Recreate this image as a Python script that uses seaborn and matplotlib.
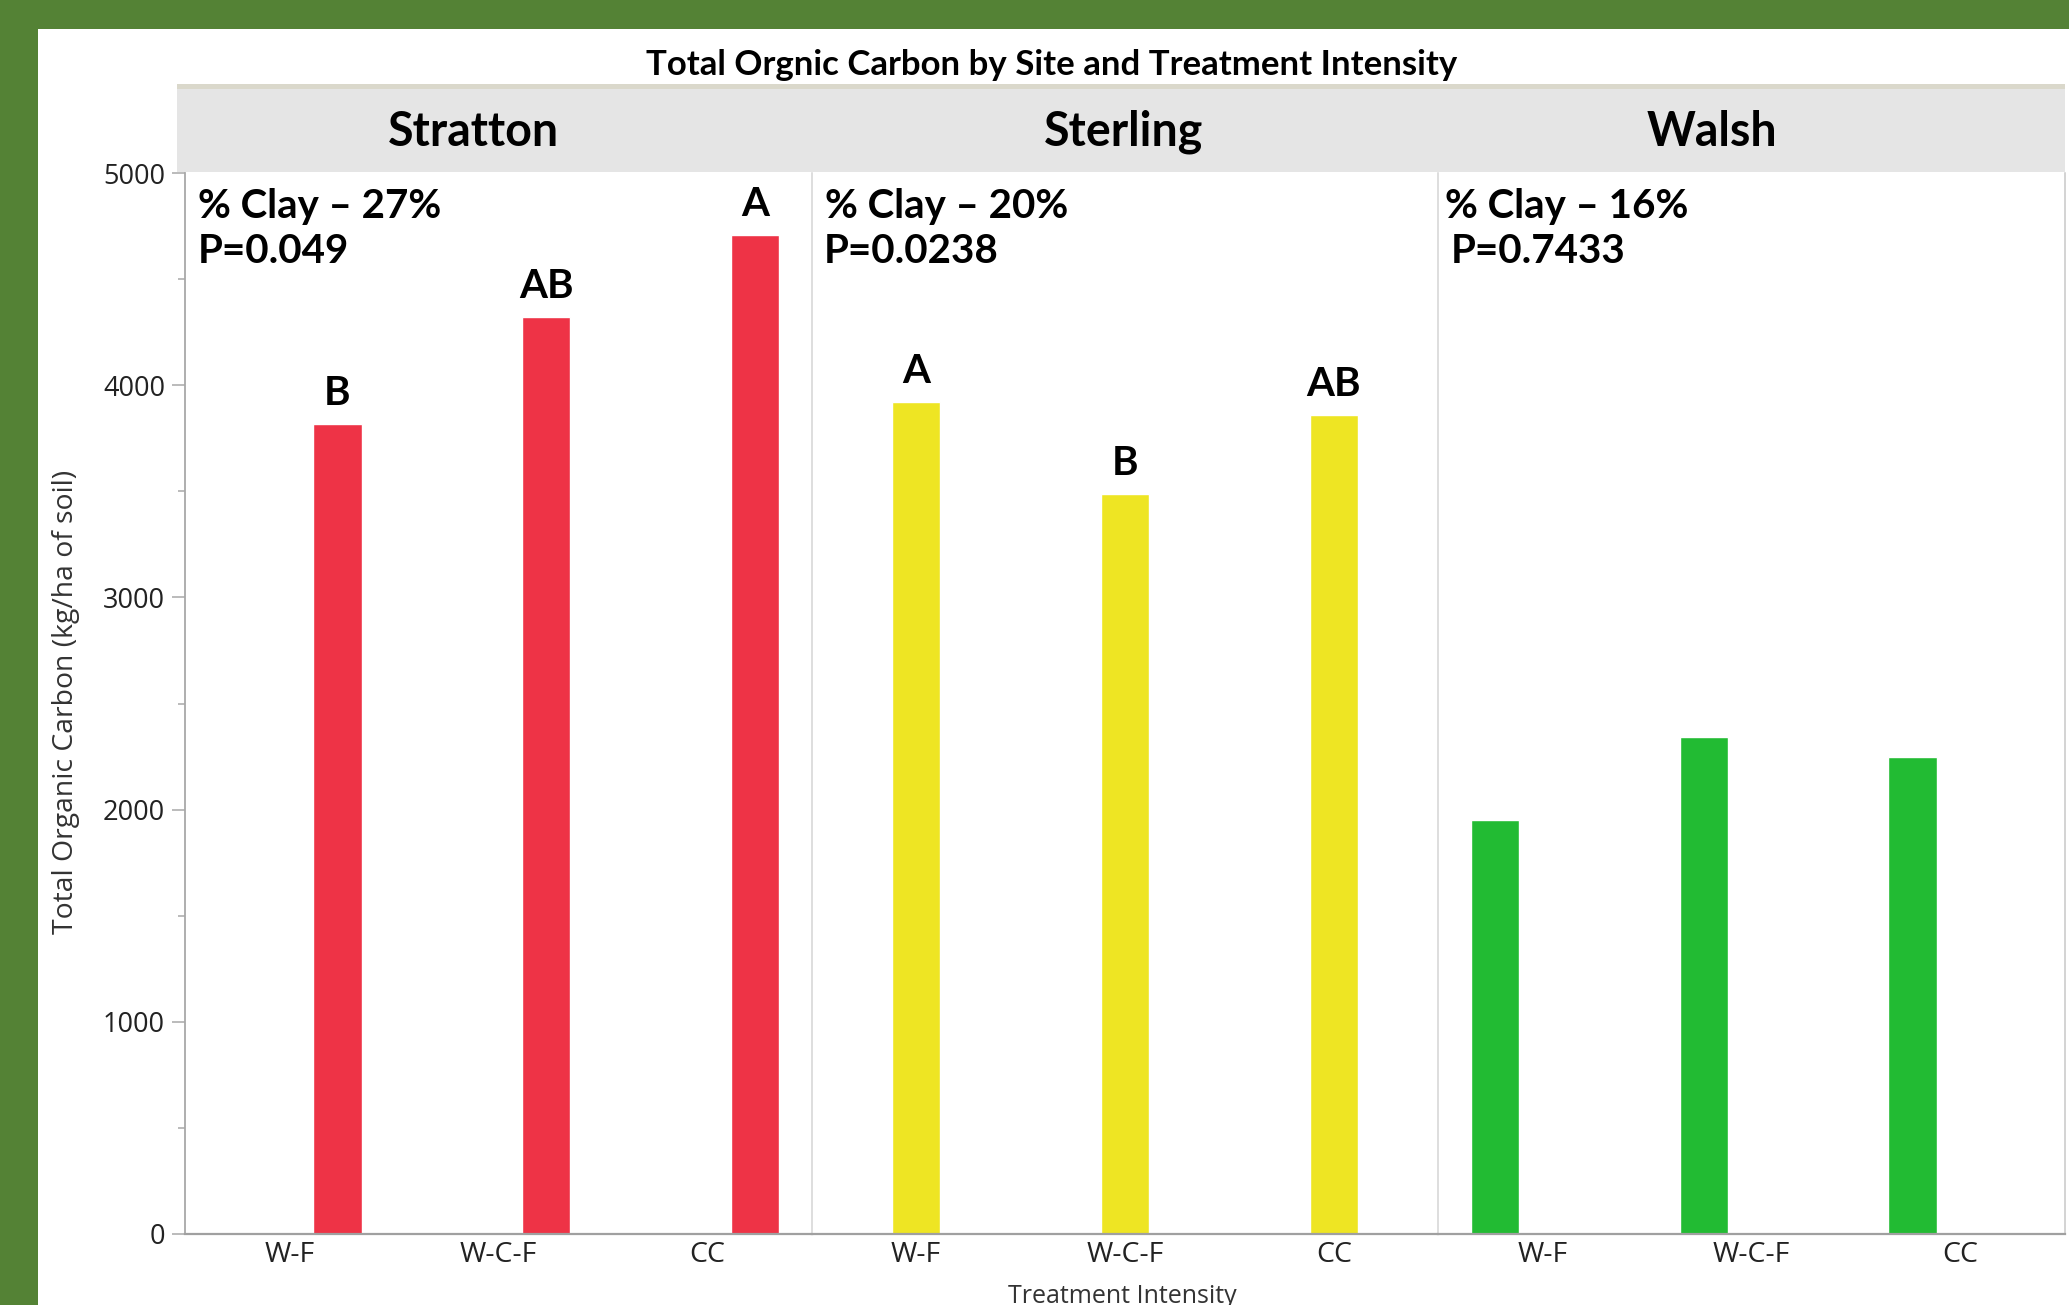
import numpy as np
import pandas as pd
import matplotlib
matplotlib.use("Agg")
import matplotlib.pyplot as plt
from matplotlib.patches import Rectangle
from matplotlib.ticker import MultipleLocator
import seaborn as sns

# ---------------- data ----------------
sites = ["Stratton", "Sterling", "Walsh"]
treatments = ["W-F", "W-C-F", "CC"]
stratton_toc = [3817, 4321, 4707]
sterling_toc = [3923, 3487, 3860]
walsh_toc = [1949, 2341, 2248]
stratton_letters = ["B", "AB", "A"]
sterling_letters = ["A", "B", "AB"]
walsh_letters = ["", "", ""]
clay_labels = ["% Clay \u2013 27%", "% Clay \u2013 20%", "% Clay \u2013 16%"]
p_labels = ["P=0.049", "P=0.0238", "P=0.7433"]
site_colors = ["#EE3346", "#EEE523", "#22BB33"]
title = "Total Orgnic Carbon by Site and Treatment Intensity"
y_label = "Total Organic Carbon (kg/ha of soil)"
x_label = "Treatment Intensity"

df = pd.DataFrame({
    "Site": np.repeat(sites, len(treatments)),
    "Treatment": treatments * len(sites),
    "TOC": stratton_toc + sterling_toc + walsh_toc,
})
letters = {"Stratton": stratton_letters, "Sterling": sterling_letters, "Walsh": walsh_letters}
palette = dict(zip(sites, site_colors))

# ---------------- style ----------------
sns.set_theme(style="white")
plt.rcParams["font.family"] = ["Open Sans", "DejaVu Sans"]
BOLD = ["Lato", "DejaVu Sans"]

W, H = 2069, 1305
g = sns.catplot(
    data=df, x="Treatment", y="TOC", col="Site", col_order=sites,
    hue="Site", hue_order=["Walsh", "Sterling", "Stratton"], palette=palette,
    kind="bar", order=treatments, dodge=True, width=0.69, errorbar=None,
    saturation=1, legend=False, sharey=True, height=5, aspect=1,
)
fig = g.figure
fig.set_size_inches(W / 100, H / 100)
fig.set_dpi(100)
fig.set_facecolor("#548235")
fig.subplots_adjust(left=185 / W, right=2065 / W, top=1 - 173 / H,
                    bottom=1 - 1234 / H, wspace=0)

# white card over green background
fig.add_artist(Rectangle((38 / W, 0), 1, 1 - 29 / H, transform=fig.transFigure,
                         facecolor="white", edgecolor="none", zorder=-10))
# facet header strip
fig.add_artist(Rectangle((177 / W, 1 - 172 / H), (2065 - 177) / W, 83 / H,
                         transform=fig.transFigure, facecolor="#E5E5E5",
                         edgecolor="none", zorder=1))
fig.add_artist(Rectangle((177 / W, 1 - 89 / H), (2065 - 177) / W, 5 / H,
                         transform=fig.transFigure, facecolor="#DAD8CB",
                         edgecolor="none", zorder=1))

g.set_titles("")
g.set_axis_labels("", "")
axes = g.axes.flatten()
header_x = [0.46, 0.498, 0.436]
for i, (ax, site) in enumerate(zip(axes, sites)):
    ax.set_ylim(0, 5000)
    ax.set_xlim(-0.5, 2.5)
    ax.yaxis.set_major_locator(MultipleLocator(1000))
    ax.yaxis.set_minor_locator(MultipleLocator(500))
    ax.tick_params(axis="x", length=0, pad=5, labelsize=20.5, labelcolor="#222222")
    ax.tick_params(axis="y", which="major", length=9.4, width=1.1, color="#A8A8A8",
                   pad=5, labelsize=19.5, labelcolor="#222222",
                   left=(i == 0), labelleft=(i == 0))
    ax.tick_params(axis="y", which="minor", length=5, width=1.1, color="#A8A8A8",
                   left=(i == 0))
    for s in ["top", "left", "right", "bottom"]:
        ax.spines[s].set_visible(False)
    ax.spines["bottom"].set_visible(True)
    ax.spines["bottom"].set_color("#A0A0A0")
    ax.spines["bottom"].set_linewidth(1.6)
    ax.spines["left"].set_visible(True)
    ax.spines["left"].set_color("#A8A8A8" if i == 0 else "#D4D4D4")
    ax.spines["left"].set_linewidth(1.3 if i == 0 else 1.1)
    if i == 2:
        ax.spines["right"].set_visible(True)
        ax.spines["right"].set_color("#C8C8C8")
        ax.spines["right"].set_linewidth(1.1)
    # header label
    fig.text(ax.get_position().x0 + header_x[i] * ax.get_position().width,
             1 - 132 / H, site, ha="center", va="center", fontsize=33.5,
             fontweight="bold", family=BOLD, color="black", zorder=5)
    # clay / P annotations
    ax.text(0.021 if i < 2 else 0.011, 0.958, clay_labels[i], transform=ax.transAxes,
            ha="left", va="baseline", fontsize=29, fontweight="bold", family=BOLD,
            color="black")
    ax.text(0.02, 0.915, p_labels[i], transform=ax.transAxes,
            ha="left", va="baseline", fontsize=29, fontweight="bold", family=BOLD,
            color="black")
    # significance letters above bars
    bars = sorted([p for p in ax.patches if p.get_height() > 0], key=lambda p: p.get_x())
    for bar, lab in zip(bars, letters[site]):
        if lab:
            ax.annotate(lab, (bar.get_x() + bar.get_width() / 2, bar.get_height()),
                        xytext=(0, 12), textcoords="offset pixels", ha="center",
                        va="bottom", fontsize=29, fontweight="bold", family=BOLD,
                        color="black")

fig.text(1052 / W, 1 - 65 / H, title, ha="center", va="center", fontsize=25,
         fontweight="bold", family=BOLD, color="black")
fig.text(66 / W, 1 - 702 / H, y_label, rotation=90, ha="center", va="center",
         fontsize=20.4, color="#333333")
fig.text(1122 / W, 1 - 1284 / H, x_label, ha="center", va="top",
         fontsize=18, color="#333333")

fig.savefig("out.png", dpi=100, facecolor=fig.get_facecolor())
